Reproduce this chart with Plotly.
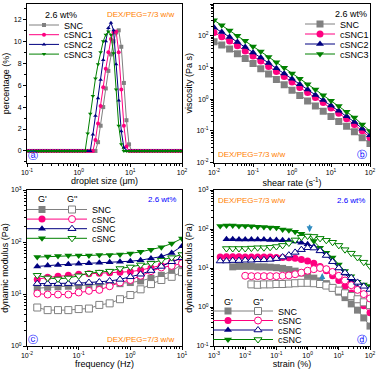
import math
import plotly.graph_objects as go

W, H = 378, 372
FONT = "Liberation Sans, Arial, sans-serif"
GREY, PINK, NAVY, GREEN = "#808080", "#FF0080", "#000080", "#008000"
ORANGE, BLUE, ARROW = "#FF8000", "#0000FF", "#2E8BC0"

# ---------------- (a) droplet size distribution ----------------
size_um = [0.106, 0.119, 0.133, 0.150, 0.168, 0.188, 0.211, 0.237, 0.266, 0.299,
           0.335, 0.376, 0.422, 0.473, 0.531, 0.596, 0.668, 0.750, 0.841, 0.944,
           1.059, 1.189, 1.334, 1.496, 1.679, 1.884, 2.113, 2.371, 2.661, 2.985,
           3.350, 3.758, 4.217, 4.732, 5.309, 5.957, 6.683, 7.499, 8.414, 9.441,
           10.59, 11.89, 13.34, 14.96, 16.79, 18.84, 21.13, 23.71, 26.61, 29.85,
           33.50, 37.58, 42.17, 47.32, 53.09, 59.57, 66.83, 74.99, 84.14, 94.41]
pct_SNC = [0.0] * 27 + [0.8, 2.3, 4.0, 5.7, 7.3, 8.8, 10.0, 10.8, 11.0, 9.5, 6.2, 2.8, 0.6] + [0.0] * 20
pct_cSNC1 = [0.0] * 26 + [1.0, 2.5, 4.1, 5.8, 7.5, 9.0, 10.2, 10.8, 10.9, 9.0, 5.6, 2.3, 0.4] + [0.0] * 21
pct_cSNC2 = [0.0] * 25 + [1.5, 3.2, 4.8, 6.5, 8.3, 10.0, 11.2, 11.7, 11.0, 7.9, 4.6, 1.8, 0.3] + [0.0] * 22
pct_cSNC3 = [0.0] * 23 + [1.6, 3.4, 5.0, 6.6, 7.9, 9.0, 10.0, 10.6, 10.9, 10.6, 8.9, 5.6, 2.3, 0.6] + [0.0] * 23

# ---------------- (b) viscosity vs shear rate ----------------
shear_rate = [0.01, 0.0158, 0.0251, 0.0398, 0.0631, 0.1, 0.158, 0.251, 0.398, 0.631,
              1.0, 1.58, 2.51, 3.98, 6.31, 10.0, 15.8, 25.1, 39.8, 63.1, 100.0]
visc_SNC = [64.6, 51.3, 38.0, 26.9, 19.1, 13.2, 9.12, 6.17, 4.17, 2.82, 1.91, 1.29, 0.871,
            0.603, 0.417, 0.282, 0.195, 0.138, 0.0933, 0.0603, 0.0398]
visc_cSNC1 = [126, 93.3, 67.6, 47.9, 33.1, 22.9, 15.8, 10.7, 7.41, 5.13, 3.47, 2.34, 1.62,
              1.12, 0.776, 0.525, 0.355, 0.240, 0.158, 0.100, 0.0617]
visc_cSNC2 = [182, 132, 91.2, 63.1, 43.7, 29.5, 20.4, 13.8, 9.33, 6.46, 4.37, 2.95, 2.0,
              1.35, 0.933, 0.631, 0.427, 0.288, 0.191, 0.117, 0.0724]
visc_cSNC3 = [309, 214, 145, 100, 69.2, 45.7, 31.6, 21.4, 14.5, 9.77, 6.46, 4.37, 2.95,
              2.0, 1.32, 0.891, 0.603, 0.398, 0.263, 0.158, 0.0977]

# ---------------- (c) frequency sweep ----------------
freq_hz = [0.0158, 0.0251, 0.0398, 0.0631, 0.1, 0.158, 0.251, 0.398, 0.631, 1.0,
           1.58, 2.51, 3.98, 6.31, 10.0]
c_Gp_SNC = [12.9, 13.5, 13.8, 14.1, 14.5, 14.8, 15.1, 15.5, 15.8, 16.6, 17.8, 20.0, 22.9, 27.5, 37.2]
c_Gp_cSNC1 = [19.1, 20.9, 21.9, 22.9, 24.0, 24.5, 25.1, 25.7, 26.3, 26.9, 28.8, 31.6, 35.5, 41.7, 47.9]
c_Gp_cSNC2 = [33.9, 35.5, 36.3, 37.2, 38.0, 38.9, 39.8, 40.7, 41.7, 42.7, 44.7, 47.9, 52.5, 61.7, 83.2]
c_Gp_cSNC3 = [51.3, 52.5, 53.7, 55.0, 55.0, 55.0, 56.2, 56.2, 57.5, 60.3, 64.6, 70.8, 79.4, 93.3, 117]
c_Gpp_SNC = [5.5, 4.9, 4.9, 4.9, 5.13, 5.25, 6.17, 6.61, 7.94, 9.55, 12.3, 15.5, 18.6, 21.4, 26.3]
c_Gpp_cSNC1 = [10.2, 9.77, 9.77, 9.77, 10.7, 11.5, 12.0, 14.1, 16.6, 18.6, 22.4, 27.5, 32.4, 34.7, 38.9]
c_Gpp_cSNC2 = [15.8, 15.8, 15.8, 15.8, 16.2, 16.6, 17.0, 17.8, 19.1, 21.4, 24.0, 28.2, 33.9, 41.7, 50.1]
c_Gpp_cSNC3 = [22.9, 20.4, 19.5, 20.4, 22.4, 25.1, 26.3, 27.5, 30.9, 33.1, 36.3, 38.9, 44.7, 50.1, 57.5]

# ---------------- (d) strain sweep ----------------
strain_pct = [0.00158, 0.00251, 0.00398, 0.00631, 0.01, 0.0158, 0.0251, 0.0398, 0.0631, 0.1,
              0.158, 0.251, 0.398, 0.631, 1.0, 1.58, 2.51, 3.98, 6.31, 10.0,
              15.8, 25.1, 39.8, 63.1, 100.0]
N = None
d_Gp_SNC = [N, N, 10.7, 11.0, 11.0, 11.0, 10.7, 10.7, 10.5, 10.2, 9.77, 9.12, 8.32, 7.41, 6.46,
            5.50, 4.68, 3.98, 3.16, 2.40, 1.74, 1.20, 0.832, 0.525, 0.324]
d_Gp_cSNC1 = [19.1, 19.5, 19.5, 19.5, 19.1, 19.1, 19.1, 19.1, 19.1, 18.6, 18.6, 18.2, 17.8, 16.6,
              15.1, 13.2, 11.0, 8.51, 6.31, 4.79, 3.39, 2.29, 1.58, 1.07, 0.708]
d_Gp_cSNC2 = [N, 55.0, 55.0, 53.7, 53.7, 53.7, 53.7, 53.7, 52.5, 52.5, 51.3, 50.1, 47.9, 44.7,
              40.7, 35.5, 28.2, 21.4, 15.1, 10.0, 7.08, 4.79, 3.16, 2.09, 1.41]
d_Gp_cSNC3 = [120, 123, 123, 120, 120, 117, 115, 112, 110, 107, 97.7, 93.3, 85.1, 75.9, 66.1,
              49.0, 33.1, 24.5, 18.6, 12.3, 8.32, 6.17, 4.47, 3.80, 3.47]
d_Gpp_SNC = [N, N, N, N, N, 3.80, 3.72, 3.80, 3.80, 3.89, 3.89, 3.98, 4.07, 4.17, 4.17,
             4.07, 3.89, 3.55, 3.09, 2.63, 2.24, 1.91, 1.58, 1.32, 1.12]
d_Gpp_cSNC1 = [N, N, N, N, 6.31, 6.17, 6.17, 6.17, 6.17, 6.17, 6.31, 6.46, 6.92, 7.59, 8.51,
               9.33, 10.0, 9.33, 7.94, 6.31, 4.79, 3.63, 2.75, 2.14, 1.66]
d_Gpp_cSNC2 = [15.1, 15.1, 15.5, 15.5, 15.8, 15.8, 16.2, 16.2, 16.6, 17.4, 19.1, 21.4, 25.1, 29.5,
               33.1, 32.4, 27.5, 20.9, 14.5, 10.0, 7.59, 5.62, 4.27, 3.39, 2.82]
d_Gpp_cSNC3 = [N, 31.6, 31.6, 31.6, 31.6, 32.4, 33.1, 33.1, 33.9, 35.5, 38.0, 43.7, 52.5, 61.7,
               66.1, 64.6, 57.5, 51.3, 45.7, 38.0, 29.5, 24.0, 18.6, 14.1, 11.2]
crossover_strain = [1.16, 2.95]
crossover_modulus = [83.0, 7.4]

# ---------------- names / tick labels ----------------
names_ab = ["SNC", "cSNC1", "cSNC2", "cSNC3"]
names_cd = ["SNC", "cSNC", "cSNC", "cSNC"]
colors = [GREY, PINK, NAVY, GREEN]
symbols = ["square", "circle", "triangle-up", "triangle-down"]

a_x_ticks = [0.1, 1, 10, 100]
a_x_text = ["10<sup>-1</sup>", "10<sup>0</sup>", "10<sup>1</sup>", "10<sup>2</sup>"]
a_y_ticks = [0, 2, 4, 6, 8, 10, 12]
b_x_ticks = [0.01, 0.1, 1, 10, 100]
b_x_text = ["10<sup>-2</sup>", "10<sup>-1</sup>", "10<sup>0</sup>", "10<sup>1</sup>", "10<sup>2</sup>"]
b_y_ticks = [0.01, 0.1, 1, 10, 100, 1000]
b_y_text = ["10<sup>-2</sup>", "10<sup>-1</sup>", "10<sup>0</sup>", "10<sup>1</sup>", "10<sup>2</sup>", "10<sup>3</sup>"]
c_x_ticks = [0.01, 0.1, 1, 10]
c_x_text = ["10<sup>-2</sup>", "10<sup>-1</sup>", "10<sup>0</sup>", "10<sup>1</sup>"]
c_y_ticks = [1, 10, 100, 1000]
c_y_text = ["10<sup>0</sup>", "10<sup>1</sup>", "10<sup>2</sup>", "10<sup>3</sup>"]
d_x_ticks = [0.001, 0.01, 0.1, 1, 10, 100]
d_x_text = ["10<sup>-3</sup>", "10<sup>-2</sup>", "10<sup>-1</sup>", "10<sup>0</sup>", "10<sup>1</sup>", "10<sup>2</sup>"]
d_y_ticks = [0.1, 1, 10, 100, 1000]
d_y_text = ["10<sup>-1</sup>", "10<sup>0</sup>", "10<sup>1</sup>", "10<sup>2</sup>", "10<sup>3</sup>"]


def px(x):
    return x / W


def py(y):
    return 1 - y / H


legend_layouts = {}


def new_legend(x, y):
    key = "legend" if not legend_layouts else f"legend{len(legend_layouts) + 1}"
    legend_layouts[key] = dict(
        x=px(x), y=py(y), xanchor="left", yanchor="middle", xref="paper", yref="paper",
        bgcolor="rgba(0,0,0,0)", borderwidth=0, itemwidth=30, tracegroupgap=0,
        font=dict(family=FONT, size=9, color="black"), itemclick=False, itemdoubleclick=False,
    )
    return key


fig = go.Figure()

# (a)
for i, ys in enumerate([pct_SNC, pct_cSNC1, pct_cSNC2, pct_cSNC3]):
    lg = new_legend(24, 25 + 9.7 * i)
    fig.add_trace(go.Scatter(
        x=size_um, y=ys, name=names_ab[i], mode="lines+markers", xaxis="x", yaxis="y",
        line=dict(color=colors[i], width=1),
        marker=dict(symbol=symbols[i], size=4, color=colors[i]),
        legend=lg,
    ))

# (b)
for i, ys in enumerate([visc_SNC, visc_cSNC1, visc_cSNC2, visc_cSNC3]):
    lg = new_legend(300, 24 + 10 * i)
    fig.add_trace(go.Scatter(
        x=shear_rate, y=ys, name=names_ab[i], mode="lines+markers", xaxis="x2", yaxis="y2",
        line=dict(color=colors[i], width=1),
        marker=dict(symbol=symbols[i], size=7, color=colors[i]),
        legend=lg,
    ))

# (c)
c_gp = [c_Gp_SNC, c_Gp_cSNC1, c_Gp_cSNC2, c_Gp_cSNC3]
c_gpp = [c_Gpp_SNC, c_Gpp_cSNC1, c_Gpp_cSNC2, c_Gpp_cSNC3]
for i in range(4):
    lg = new_legend(22, 209.5 + 9.6 * i)
    fig.add_trace(go.Scatter(
        x=freq_hz, y=c_gp[i], name="", mode="lines+markers", xaxis="x3", yaxis="y3",
        line=dict(color=colors[i], width=1),
        marker=dict(symbol=symbols[i], size=7, color=colors[i]),
        legend=lg,
    ))
for i in range(4):
    lg = new_legend(52, 209.5 + 9.6 * i)
    fig.add_trace(go.Scatter(
        x=freq_hz, y=c_gpp[i], name=names_cd[i], mode="lines+markers", xaxis="x3", yaxis="y3",
        line=dict(color=colors[i], width=1),
        marker=dict(symbol=symbols[i], size=7, color="white", line=dict(color=colors[i], width=1)),
        legend=lg,
    ))

# (d)
d_gp = [d_Gp_SNC, d_Gp_cSNC1, d_Gp_cSNC2, d_Gp_cSNC3]
d_gpp = [d_Gpp_SNC, d_Gpp_cSNC1, d_Gpp_cSNC2, d_Gpp_cSNC3]
for i in range(4):
    lg = new_legend(208, 311 + 9.5 * i)
    fig.add_trace(go.Scatter(
        x=strain_pct, y=d_gp[i], name="", mode="lines+markers", xaxis="x4", yaxis="y4",
        line=dict(color=colors[i], width=1), connectgaps=False,
        marker=dict(symbol=symbols[i], size=7, color=colors[i]),
        legend=lg,
    ))
for i in range(4):
    lg = new_legend(238, 311 + 9.5 * i)
    fig.add_trace(go.Scatter(
        x=strain_pct, y=d_gpp[i], name=names_cd[i], mode="lines+markers", xaxis="x4", yaxis="y4",
        line=dict(color=colors[i], width=1), connectgaps=False,
        marker=dict(symbol=symbols[i], size=7, color="white", line=dict(color=colors[i], width=1)),
        legend=lg,
    ))

common = dict(
    showline=True, linecolor="black", linewidth=1, mirror=True,
    ticks="outside", ticklen=3, tickwidth=1, tickcolor="black",
    showgrid=False, zeroline=False, automargin=False,
    tickfont=dict(family=FONT, size=7, color="black"),
)
minor_log = dict(ticks="outside", ticklen=2, tickcolor="black", dtick="D1", showgrid=False)


def title(t, standoff):
    return dict(text=t, font=dict(family=FONT, size=9, color="black"), standoff=standoff)


layout_axes = dict(
    xaxis=dict(common, type="log", domain=[px(27), px(182)], anchor="y", range=[-1, 2],
               tickmode="array", tickvals=a_x_ticks, ticktext=a_x_text, minor=minor_log,
               title=title("droplet size (μm)", 1)),
    yaxis=dict(common, domain=[py(163), py(4)], anchor="x", range=[-1.1, 13.4],
               tickmode="array", tickvals=a_y_ticks,
               minor=dict(ticks="outside", ticklen=2, tickcolor="black", dtick=1, showgrid=False),
               title=title("percentage (%)", 2)),
    xaxis2=dict(common, type="log", domain=[px(214), px(370)], anchor="y2", range=[-2, 2],
                tickmode="array", tickvals=b_x_ticks, ticktext=b_x_text, minor=minor_log,
                title=title("shear rate (s<sup>-1</sup>)", 1)),
    yaxis2=dict(common, type="log", domain=[py(162.5), py(4)], anchor="x2", range=[-2, 3],
                tickmode="array", tickvals=b_y_ticks, ticktext=b_y_text, minor=minor_log,
                title=title("viscosity (Pa s)", 2)),
    xaxis3=dict(common, type="log", domain=[px(27), px(182)], anchor="y3", range=[-2, 1],
                tickmode="array", tickvals=c_x_ticks, ticktext=c_x_text, minor=minor_log,
                title=title("frequency (Hz)", 1)),
    yaxis3=dict(common, type="log", domain=[py(346), py(190)], anchor="x3", range=[0, 3],
                tickmode="array", tickvals=c_y_ticks, ticktext=c_y_text, minor=minor_log,
                title=title("dynamic modulus (Pa)", 2)),
    xaxis4=dict(common, type="log", domain=[px(214), px(370)], anchor="y4", range=[-3, 2],
                tickmode="array", tickvals=d_x_ticks, ticktext=d_x_text, minor=minor_log,
                title=title("strain (%)", 1)),
    yaxis4=dict(common, type="log", domain=[py(346), py(190)], anchor="x4", range=[-1, 3],
                tickmode="array", tickvals=d_y_ticks, ticktext=d_y_text, minor=minor_log,
                title=title("dynamic modulus (Pa)", 2)),
)


def note(text, x, y, color="black", size=9, xanchor="center", family=FONT):
    return dict(text=text, x=px(x), y=py(y), xref="paper", yref="paper", showarrow=False,
                xanchor=xanchor, yanchor="middle", font=dict(family=family, size=size, color=color))


annotations = [
    # (a)
    note("2.6 wt%", 61, 15),
    note("DEX/PEG=7/3 w/w", 177, 15, ORANGE, 8, "right"),
    note("ⓐ", 33, 155, BLUE, 10, family="DejaVu Sans"),
    # (b)
    note("2.6 wt%", 351, 14),
    note("DEX/PEG=7/3 w/w", 216, 154, ORANGE, 8, "left"),
    note("ⓑ", 362, 154, BLUE, 10, family="DejaVu Sans"),
    # (c)
    note("G'", 42, 199),
    note("G''", 72, 199),
    note("2.6 wt%", 178, 199, BLUE, 8, "right"),
    note("DEX/PEG=7/3 w/w", 177, 339, ORANGE, 8, "right"),
    note("ⓒ", 33, 339, BLUE, 10, family="DejaVu Sans"),
    # (d)
    note("DEX/PEG=7/3 w/w", 216, 200, ORANGE, 8, "left"),
    note("2.6 wt%", 367, 200, BLUE, 8, "right"),
    note("G'", 228, 302),
    note("G''", 258, 302),
    note("ⓓ", 362, 339, BLUE, 10, family="DejaVu Sans"),
]
for xs, ys, ay in zip(crossover_strain, crossover_modulus, [-9, 9]):
    annotations.append(dict(
        x=math.log10(xs), y=math.log10(ys), xref="x4", yref="y4", text="", showarrow=True,
        arrowhead=2, arrowsize=0.8, arrowwidth=1.5, arrowcolor=ARROW, ax=0, ay=ay,
    ))

fig.update_layout(
    width=W, height=H, margin=dict(l=0, r=0, t=0, b=0),
    paper_bgcolor="white", plot_bgcolor="white",
    font=dict(family=FONT, size=9, color="black"),
    showlegend=True,
    annotations=annotations,
    **layout_axes,
    **legend_layouts,
)

fig.write_html(
    "out.html",
    config={"displayModeBar": False},
    post_script="document.body.style.margin='0';document.body.style.overflow='hidden';",
)
